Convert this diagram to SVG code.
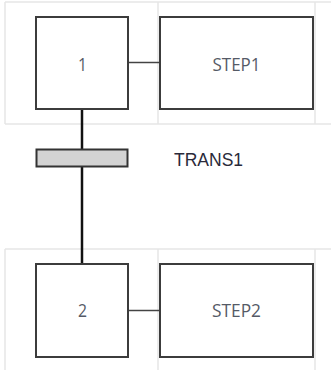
<svg xmlns="http://www.w3.org/2000/svg" width="331" height="370" viewBox="0 0 331 370">
<style>
.grid{stroke:#e6e6e6;stroke-width:1.5;fill:none}
.box{fill:#fff;stroke:#3c3c3c;stroke-width:2}
.bar{fill:#d3d3d3;stroke:#333;stroke-width:2}
.link{stroke:#111;stroke-width:2.5;fill:none}
.side{stroke:#444;stroke-width:1.5;fill:none}
.lbl{font-family:"Open Sans","Noto Sans",sans-serif;font-size:18px;fill:#555a66;text-anchor:middle}
.tr{font-family:"Liberation Sans",Arial,sans-serif;font-size:17.5px;fill:#2a2a3a}
</style>
<rect width="331" height="370" fill="#fff"/>
<g id="grid">
<path class="grid" d="M5 2H331M5 124H331M5 249H331M5 2V124M158 2V124M315 2V124M5 249V370M158 249V370M315 249V370"/>
</g>
<g id="connectors">
<line class="link" x1="82" y1="109" x2="82" y2="149"/>
<line class="link" x1="82" y1="166" x2="82" y2="264"/>
<line class="side" x1="128" y1="62.5" x2="160" y2="62.5"/>
<line class="side" x1="128" y1="310.5" x2="160" y2="310.5"/>
</g>
<g id="step1">
<rect class="box" x="36" y="17" width="92" height="92"/>
<text class="lbl" x="82.5" y="71" textLength="9" lengthAdjust="spacingAndGlyphs">1</text>
</g>
<g id="step1-action">
<rect class="box" x="160" y="17" width="153" height="92"/>
<text class="lbl" x="236.5" y="71" textLength="48" lengthAdjust="spacingAndGlyphs">STEP1</text>
</g>
<g id="trans1">
<rect class="bar" x="36.5" y="149.5" width="91" height="17"/>
<text class="tr" x="174" y="165.5">TRANS1</text>
</g>
<g id="step2">
<rect class="box" x="36" y="264" width="92" height="93"/>
<text class="lbl" x="82.5" y="317" textLength="9" lengthAdjust="spacingAndGlyphs">2</text>
</g>
<g id="step2-action">
<rect class="box" x="160" y="264" width="153" height="93"/>
<text class="lbl" x="236.5" y="317" textLength="49" lengthAdjust="spacingAndGlyphs">STEP2</text>
</g>
</svg>
